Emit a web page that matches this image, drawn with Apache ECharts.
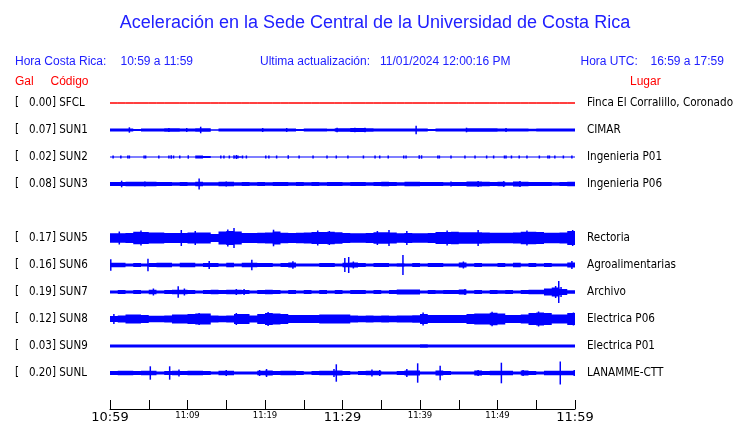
<!DOCTYPE html>
<html><head><meta charset="utf-8">
<script src="https://cdn.jsdelivr.net/npm/echarts@6/dist/echarts.min.js"></script>
<style>html,body{margin:0;padding:0;background:#fff}#c{width:740px;height:423px}</style>
</head><body><div id="c"></div>
<script>
// ---------- DATA ----------
const chartTitle = 'Aceleración en la Sede Central de la Universidad de Costa Rica';
const horaCRLabel = 'Hora Costa Rica:';
const horaCR = '10:59 a 11:59';
const ultimaLabel = 'Ultima actualización:';
const ultima = '11/01/2024 12:00:16 PM';
const horaUTCLabel = 'Hora UTC:';
const horaUTC = '16:59 a 17:59';
const tickLabels = ['10:59', '11:09', '11:19', '11:29', '11:39', '11:49', '11:59'];

const rowCodes = ['SFCL', 'SUN1', 'SUN2', 'SUN3', '', 'SUN5', 'SUN6', 'SUN7', 'SUN8', 'SUN9', 'SUNL'];
const rowPlaces = ['Finca El Corralillo, Coronado', 'CIMAR', 'Ingenieria P01', 'Ingenieria P06', '',
  'Rectoria', 'Agroalimentarias', 'Archivo', 'Electrica P06', 'Electrica P01', 'LANAMME-CTT'];
const galValues = [0.00, 0.07, 0.02, 0.08, null, 0.17, 0.16, 0.19, 0.12, 0.03, 0.20];

// per-minute envelope (half amplitude, relative units)
const envSFCL = [0,0,0,0,0,0,0,0,0,0, 0,0,0,0,0,0,0,0,0,0, 0,0,0,0,0,0,0,0,0,0, 0,0,0,0,0,0,0,0,0,0, 0,0,0,0,0,0,0,0,0,0, 0,0,0,0,0,0,0,0,0,0];
const envSUN1 = [1.5,1.5,1.6,1.0,1.5,1.5,1.5,1.8,1.8,1.5, 1.5,1.8,1.8,0.8,1.5,1.5,1.5,1.5,1.5,1.5, 1.5,1.5,1.5,1.5,1.0,1.5,1.5,1.5,1.2,1.8, 1.8,2.0,2.0,1.8,1.5,1.5,1.5,1.5,1.5,1.5, 1.5,1.0,1.5,1.5,1.5,1.5,1.7,1.7,1.7,1.7, 1.5,1.5,1.5,1.5,1.2,1.6,1.6,1.6,1.6,1.6];
const envSUN2 = [0.6,0.6,0.6,0.6,0.6,0.6,0.6,0.6,0.6,0.6, 0.6,1.4,1.0,0.6,0.6,0.6,0.8,0.6,0.6,0.6, 0.6,0.6,0.6,0.6,0.6,0.6,0.6,0.6,0.6,0.6, 0.6,0.6,0.6,0.6,0.6,0.6,0.6,0.6,0.6,0.6, 0.6,0.6,0.6,0.6,0.6,0.6,0.6,0.6,0.6,0.6, 0.6,0.6,0.6,0.6,0.6,0.6,0.6,0.6,0.6,0.6];
const envSUN3 = [2.0,2.0,2.2,2.2,2.2,2.2,2.0,2.0,1.8,2.0, 1.8,2.2,1.8,1.8,2.2,2.2,1.8,2.0,1.8,2.0, 1.8,2.0,2.0,1.8,2.0,1.8,2.0,1.8,2.0,2.0, 1.8,2.0,2.0,1.8,2.0,2.2,2.0,1.8,2.2,2.2, 2.0,2.0,2.0,1.8,2.0,2.0,2.4,2.4,2.2,2.0, 2.2,1.8,2.4,2.2,2.0,2.0,2.0,1.8,2.0,2.2];
const envSUN5 = [4.7,4.7,5.0,6.3,6.0,5.5,5.5,5.0,5.0,5.0, 5.5,5.5,5.5,4.0,6.5,7.0,6.5,5.0,5.0,5.3, 5.5,6.5,5.3,5.0,5.3,5.5,6.0,6.0,6.2,5.8, 5.0,4.7,4.7,5.0,5.7,5.7,5.5,4.7,5.0,4.7, 4.7,5.0,6.0,6.0,6.2,5.8,5.7,5.7,5.5,5.3, 5.3,5.3,5.5,6.2,6.2,6.0,5.3,5.3,5.5,7.0];
const envSUN6 = [2.2,2.2,1.6,2.0,1.6,2.0,2.2,2.2,1.6,2.2, 2.2,1.6,2.0,2.0,1.6,2.2,1.6,2.2,2.2,2.0, 2.0,1.6,2.0,2.6,1.6,1.6,1.6,2.0,2.0,1.6, 2.2,2.4,2.0,1.6,2.0,2.0,1.6,1.8,1.6,2.0, 1.6,2.0,2.0,1.6,1.6,2.4,1.6,2.0,1.6,1.6, 2.0,1.6,2.2,1.6,2.0,1.6,2.0,1.6,1.6,2.6];
const envSUN7 = [1.4,2.0,1.4,2.0,1.6,2.2,1.4,2.0,2.2,2.2, 2.0,1.4,2.0,2.2,2.0,2.2,2.2,2.0,1.4,2.0, 2.2,2.0,1.4,2.0,1.6,2.0,1.4,2.0,1.4,2.0, 1.6,2.0,2.0,1.4,2.0,1.6,2.0,2.4,2.6,2.4, 1.6,2.0,1.8,2.0,2.0,2.4,1.6,2.0,1.6,2.0, 1.8,2.0,1.6,2.0,2.2,2.2,3.5,4.5,3.0,1.8];
const envSUN8 = [3.0,3.5,4.5,4.5,4.0,3.3,3.3,3.5,4.5,4.5, 5.0,5.5,5.5,3.5,3.3,3.5,5.0,5.0,3.5,5.0, 6.0,5.5,5.0,4.0,4.0,4.0,4.0,4.5,4.5,4.5, 4.5,3.5,3.3,3.5,3.3,3.5,3.3,3.5,3.5,3.8, 5.0,4.0,4.0,4.0,4.0,4.0,5.0,5.5,5.5,6.2, 5.5,4.0,4.0,4.5,6.0,6.5,6.0,4.5,4.5,6.0];
const envSUN9 = [1.5,1.5,1.5,1.5,1.5,1.5,1.5,1.5,1.5,1.5, 1.5,1.5,1.5,1.5,1.5,1.5,1.5,1.5,1.5,1.5, 1.5,1.5,1.5,1.5,1.5,1.5,1.5,1.5,1.5,1.5, 1.5,1.5,1.5,1.5,1.5,1.5,1.5,1.5,1.5,1.5, 1.8,1.5,1.5,1.5,1.5,1.5,1.5,1.5,1.5,1.5, 1.5,1.5,1.5,1.5,1.5,1.5,1.5,1.5,1.5,1.5];
const envSUNL = [2.0,2.2,2.2,2.0,2.2,2.2,1.6,2.0,2.2,2.0, 2.2,2.2,2.0,1.6,2.2,2.2,1.6,1.6,1.6,2.2, 2.4,2.0,2.2,2.2,2.0,1.6,2.0,2.2,2.2,2.6, 2.0,1.6,2.0,2.2,2.2,1.6,1.6,2.0,2.4,2.4, 1.6,1.6,2.4,2.0,1.6,1.6,1.6,2.4,2.0,2.2, 2.2,2.2,1.6,2.4,2.0,1.6,2.2,2.2,2.2,2.2];

// peaks: [minute, half amplitude]
const spkSUN1 = [[2.5,2.7],[7.6,2],[9.9,2],[11.7,3.3],[19.7,2],[22.8,2],[29.3,2.2],[31.6,2.3],[32.9,2.3],[39.5,4.2],[46.0,2.3],[51.1,2]];
const spkSUN2 = [[0.4,1.5],[1.4,1.5],[2.3,1.5],[2.5,1.5],[4.4,1.5],[4.6,1.5],[6.3,1.5],[7.6,1.5],[7.9,1.7],[8.2,1.5],[9,1.5],[10.1,1.7],[14.3,1.5],[14.7,1.5],[15.4,1.5],[16,1.7],[16.3,2],[16.5,1.5],[17.1,1.5],[17.6,1.5],[20.1,1.5],[20.5,1.5],[21.5,1.5],[23,1.7],[24.4,1.5],[26.2,1.5],[28,1.5],[29.2,1.5],[30.7,1.5],[32.7,1.5],[34.2,1.5],[34.8,1.5],[35.9,1.5],[37.9,1.5],[38.2,1.5],[39.9,1.7],[40.2,1.7],[42.3,1.5],[42.5,1.5],[44,1.5],[45.8,1.5],[47.1,1.5],[48.6,1.5],[49.5,1.5],[50.9,1.5],[51.1,1.5],[51.8,1.5],[52.8,1.5],[53.8,1.5],[55.4,1.5],[56.5,1.5],[56.7,1.5],[57.4,1.5],[58.5,1.5],[59.6,1.5]];
const spkSUN3 = [[1.5,3.3],[4.5,2.6],[11.5,5.6],[15,2.6],[44,2.5],[47.5,3],[50.8,2.8],[52.9,3]];
const spkSUN5 = [[1.2,6.5],[4,7.5],[9.2,8],[11,7],[15.2,8.5],[16,10],[21.1,8.3],[26.8,7.5],[28.3,7],[34.5,7],[36,8],[38.3,7],[43.5,7.5],[47.5,8],[53.8,7.5],[59.7,8]];
const spkSUN6 = [[0.1,5.7],[4.9,6.3],[12.8,4],[18.3,5.3],[23.6,3.8],[30.3,7],[30.8,8],[31.4,3.5],[37.8,10],[45.6,3.5],[59.6,4]];
const spkSUN7 = [[5.6,3.5],[8.8,5.8],[9.6,3.5],[16.3,3],[17.3,3],[45.8,3],[57.5,6],[57.9,11],[58.2,5]];
const spkSUN8 = [[0.5,5],[11.5,6],[16.3,6],[20.4,7],[40.4,6.5],[49.3,7.2],[55.3,7.5],[59.8,6.5]];
const spkSUNL = [[5.2,6.7],[7.7,6.7],[8.9,3.5],[15,3],[19.3,3],[20.2,4],[28.9,4],[29.2,8.7],[33.8,3.5],[34.8,3],[38.3,4],[39.7,9.7],[42.6,7.3],[47.5,3],[50.5,10.3],[53.3,3],[58.1,11.5],[59.9,3]];

// ---------- CHART ----------
const AMP_TO_ROW = 1 / 27;
const TRACE_BLUE = '#0000ff';
const TEXT_BLUE = '#2020ff';
const STATION_FONT = "'DejaVu Sans Condensed', 'DejaVu Sans', sans-serif";
const HEADER_FONT = "'Liberation Sans', Arial, sans-serif";

const envByRow = [envSFCL, envSUN1, envSUN2, envSUN3, null, envSUN5, envSUN6, envSUN7, envSUN8, envSUN9, envSUNL];
const spkByRow = [null, spkSUN1, spkSUN2, spkSUN3, null, spkSUN5, spkSUN6, spkSUN7, spkSUN8, null, spkSUNL];

const series = [];
envByRow.forEach((env, row) => {
  if (!env) return;
  const isRef = row === 0;
  series.push({
    type: 'custom', name: rowCodes[row], xAxisIndex: 0, yAxisIndex: 0,
    data: [[0, row]], silent: true,
    renderItem: function (params, api) {
      const top = [], bot = [];
      for (let i = 0; i < env.length; i++) {
        const a = env[i] * AMP_TO_ROW;
        top.push(api.coord([i, row - a]));
        top.push(api.coord([i + 1, row - a]));
        bot.push(api.coord([i, row + a]));
        bot.push(api.coord([i + 1, row + a]));
      }
      const pts = top.concat(bot.reverse());
      return {
        type: 'polygon', shape: { points: pts },
        style: isRef ? { fill: '#ff0000', stroke: '#ff0000', lineWidth: 1 } : { fill: TRACE_BLUE }
      };
    }
  });
});

const spikeData = [];
spkByRow.forEach((sp, row) => { if (sp) sp.forEach(s => spikeData.push([s[0], row, s[1]])); });
series.push({
  type: 'custom', name: 'peaks', xAxisIndex: 0, yAxisIndex: 0, silent: true,
  data: spikeData,
  renderItem: function (params, api) {
    const t = api.value(0), row = api.value(1), a = api.value(2) * AMP_TO_ROW;
    const p1 = api.coord([t, row - a]), p2 = api.coord([t, row + a]);
    return { type: 'line', shape: { x1: p1[0], y1: p1[1], x2: p2[0], y2: p2[1] },
      style: { stroke: TRACE_BLUE, lineWidth: 1.5 } };
  }
});

function txt(x, y, text, color, size, family, align) {
  return { type: 'text', x: x, y: y, silent: true,
    style: { text: text, fill: color, fontSize: size, fontFamily: family, align: align || 'left', verticalAlign: 'middle' } };
}

const chart = echarts.init(document.getElementById('c'), null, { renderer: 'canvas' });
chart.setOption({
  animation: false,
  backgroundColor: '#ffffff',
  grid: { left: 110, right: 165, top: 89.5, height: 297, containLabel: false, outerBoundsMode: 'none' },
  xAxis: {
    type: 'value', min: 0, max: 60, interval: 5, offset: 22.5,
    axisLine: { show: true, onZero: false, lineStyle: { color: '#000', width: 1 } },
    axisTick: { show: true, inside: true, length: 9, lineStyle: { color: '#000', width: 1 } },
    splitLine: { show: false },
    axisLabel: {
      margin: 2, hideOverlap: false, showMinLabel: true, showMaxLabel: true,
      formatter: function (v) {
        if (v % 10 !== 0) return '';
        const s = tickLabels[v / 10];
        return v % 30 === 0 ? '{big|' + s + '}' : '{small|' + s + '}';
      },
      rich: {
        big: { fontSize: 13, fontFamily: 'DejaVu Sans', color: '#000' },
        small: { fontSize: 8.5, fontFamily: 'DejaVu Sans', color: '#000' }
      }
    }
  },
  yAxis: [
    { type: 'value', show: false, min: -0.5, max: 10.5, inverse: true },
    { type: 'category', data: rowCodes, inverse: true, position: 'left',
      axisLine: { show: false }, axisTick: { show: false }, splitLine: { show: false },
      axisLabel: { interval: 0, align: 'left', margin: 95, color: '#000', fontSize: 11.5, fontFamily: STATION_FONT,
        padding: [3, 0, 0, 0],
        formatter: function (v, i) { return rowCodes[i] ? '[   ' + galValues[i].toFixed(2) + '] ' + rowCodes[i] : ''; } } },
    { type: 'category', data: rowPlaces, inverse: true, position: 'right',
      axisLine: { show: false }, axisTick: { show: false }, splitLine: { show: false },
      axisLabel: { interval: 0, align: 'left', margin: 12, color: '#000', fontSize: 11.6, fontFamily: STATION_FONT,
        padding: [3, 0, 0, 0] } }
  ],
  graphic: [
    txt(375, 23, chartTitle, TEXT_BLUE, 18, HEADER_FONT, 'center'),
    txt(15, 61.5, horaCRLabel, TEXT_BLUE, 12, HEADER_FONT),
    txt(120.5, 61.5, horaCR, TEXT_BLUE, 12, HEADER_FONT),
    txt(260, 61.5, ultimaLabel, TEXT_BLUE, 12, HEADER_FONT),
    txt(380, 61.5, ultima, TEXT_BLUE, 12, HEADER_FONT),
    txt(580.5, 61.5, horaUTCLabel, TEXT_BLUE, 12, HEADER_FONT),
    txt(650.5, 61.5, horaUTC, TEXT_BLUE, 12, HEADER_FONT),
    txt(15, 81.5, 'Gal', '#ff0000', 12, HEADER_FONT),
    txt(50.5, 81.5, 'Código', '#ff0000', 12, HEADER_FONT),
    txt(630, 81.5, 'Lugar', '#ff0000', 12, HEADER_FONT)
  ],
  series: series
});
</script>
</body></html>
